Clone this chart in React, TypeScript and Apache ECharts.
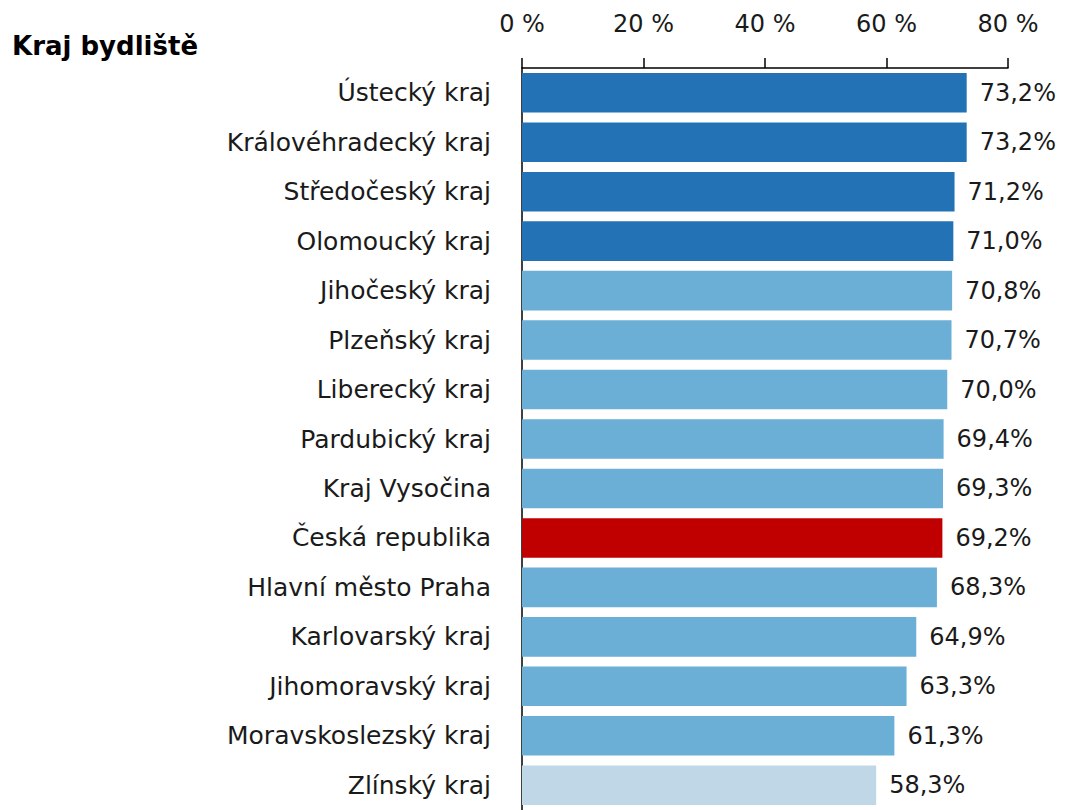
import React, { useEffect, useRef } from "react";
import * as echarts from "echarts";

const categories = [
  "Ústecký kraj",
  "Královéhradecký kraj",
  "Středočeský kraj",
  "Olomoucký kraj",
  "Jihočeský kraj",
  "Plzeňský kraj",
  "Liberecký kraj",
  "Pardubický kraj",
  "Kraj Vysočina",
  "Česká republika",
  "Hlavní město Praha",
  "Karlovarský kraj",
  "Jihomoravský kraj",
  "Moravskoslezský kraj",
  "Zlínský kraj",
];
const values = [73.2, 73.2, 71.2, 71.0, 70.8, 70.7, 70.0, 69.4, 69.3, 69.2, 68.3, 64.9, 63.3, 61.3, 58.3];
const topGroup = ["Ústecký kraj", "Královéhradecký kraj", "Středočeský kraj", "Olomoucký kraj"];
const nationalTotal = "Česká republika";
const bottomGroup = ["Zlínský kraj"];
const xTicks = [0, 20, 40, 60, 80];
const title = "Kraj bydliště";

const FONT = "'DejaVu Sans', sans-serif";

function colorOf(name: string): string {
  if (name === nationalTotal) return "#C00000";
  if (topGroup.includes(name)) return "#2272B5";
  if (bottomGroup.includes(name)) return "#BFD7E6";
  return "#6BAED6";
}

export default function App() {
  const ref = useRef<HTMLDivElement>(null);
  useEffect(() => {
    document.body.style.margin = "0";
    document.body.style.overflow = "hidden";
    const chart = echarts.init(ref.current!, null, { renderer: "svg" });
    chart.setOption({
      animation: false,
      backgroundColor: "#ffffff",
      title: {
        text: title,
        left: 7,
        top: 28,
        textStyle: { fontFamily: FONT, fontSize: 26, fontWeight: "bold", color: "#000" },
      },
      grid: { left: 522, right: 58, top: 68, bottom: -5, containLabel: false },
      xAxis: {
        type: "value",
        position: "top",
        min: xTicks[0],
        max: xTicks[xTicks.length - 1],
        interval: xTicks[1] - xTicks[0],
        axisLine: { show: true, lineStyle: { color: "#000", width: 1.5 } },
        axisTick: { show: true, length: 10, lineStyle: { color: "#000", width: 1.5 } },
        splitLine: { show: false },
        axisLabel: {
          margin: 32,
          fontFamily: FONT,
          fontSize: 24,
          color: "#1a1a1a",
          formatter: (v: number) => `${v} %`,
        },
      },
      yAxis: {
        type: "category",
        inverse: true,
        data: categories,
        axisLine: { show: true, lineStyle: { color: "#000", width: 1.5 } },
        axisTick: { show: false },
        axisLabel: { margin: 31, fontFamily: FONT, fontSize: 25, color: "#1a1a1a" },
      },
      series: [
        {
          type: "bar",
          barCategoryGap: "20%",
          data: values.map((v, i) => ({ value: v, itemStyle: { color: colorOf(categories[i]) } })),
          label: {
            show: true,
            position: "right",
            distance: 13,
            fontFamily: FONT,
            fontSize: 24,
            color: "#1a1a1a",
            formatter: (p: any) => `${p.value.toFixed(1).replace(".", ",")}%`,
          },
        },
      ],
    });
    return () => chart.dispose();
  }, []);
  return <div ref={ref} style={{ width: 1066, height: 810 }} />;
}
